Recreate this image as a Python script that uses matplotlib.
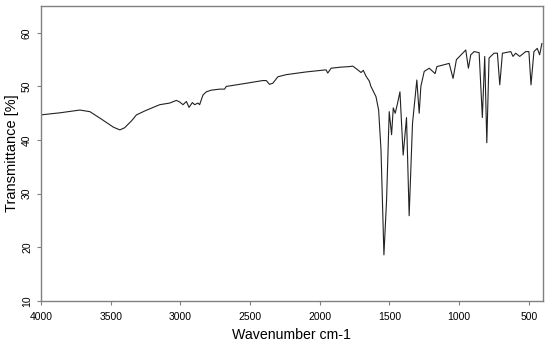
import matplotlib
matplotlib.use('Agg')
import matplotlib.pyplot as plt

plt.rcParams['font.family'] = ['Liberation Sans', 'DejaVu Sans']

# IR spectrum (wavenumber cm-1, transmittance %)
wavenumber = [4000, 3860, 3721, 3649, 3560, 3480, 3434, 3400, 3350, 3315,
              3250, 3148, 3077, 3029, 3005, 2981, 2957, 2938, 2914, 2898,
              2874, 2862, 2838, 2814, 2780, 2719, 2683, 2671, 2550, 2409,
              2384, 2361, 2337, 2301, 2241, 2100, 1955, 1943, 1919, 1850,
              1788, 1764, 1728, 1704, 1688, 1668, 1645, 1633, 1597, 1578,
              1561, 1540, 1521, 1502, 1485, 1473, 1459, 1442, 1425, 1402,
              1378, 1359, 1335, 1304, 1287, 1275, 1251, 1215, 1173, 1160,
              1072, 1044, 1020, 953, 934, 917, 893, 857, 834, 817,
              802, 786, 750, 726, 709, 690, 630, 614, 595, 566,
              523, 500, 485, 464, 440, 423, 407]
transmittance = [44.7, 45.1, 45.6, 45.3, 43.8, 42.4, 41.9, 42.3, 43.6, 44.7,
                 45.5, 46.6, 46.9, 47.4, 47.1, 46.6, 47.2, 46.1, 47.0, 46.6,
                 46.9, 46.6, 48.4, 49.0, 49.3, 49.5, 49.5, 50.0, 50.5, 51.1,
                 51.1, 50.4, 50.6, 51.8, 52.2, 52.7, 53.1, 52.5, 53.4, 53.6,
                 53.7, 53.8, 53.1, 52.6, 53.0, 51.9, 51.0, 50.0, 48.1, 45.6,
                 38.2, 18.6, 28.8, 45.3, 41.0, 46.0, 45.0, 46.9, 49.0, 37.2,
                 44.2, 25.9, 43.1, 51.2, 45.0, 50.0, 52.8, 53.4, 52.4, 53.7,
                 54.3, 51.5, 55.0, 56.8, 53.4, 55.9, 56.5, 56.3, 44.2, 55.6,
                 39.5, 55.3, 56.2, 56.2, 50.3, 56.2, 56.5, 55.6, 56.2, 55.6,
                 56.5, 56.5, 50.3, 56.5, 57.1, 55.9, 58.0]

fig = plt.figure(figsize=(5.5, 3.47), dpi=100)
ax = fig.add_axes([0.0745, 0.1326, 0.9125, 0.8501])
ax.plot(wavenumber, transmittance, color='#222222', linewidth=0.8)

ax.set_xlim(4000, 400)
ax.set_ylim(10, 65)
ax.set_xticks([4000, 3500, 3000, 2500, 2000, 1500, 1000, 500])
ax.set_yticks([10, 20, 30, 40, 50, 60])

for s in ax.spines.values():
    s.set_color('#808080')
    s.set_linewidth(1.0)
ax.tick_params(direction='out', length=3, width=0.8, color='#808080', labelsize=7.5)
ax.tick_params(axis='x', pad=5)
for lbl in ax.get_yticklabels():
    lbl.set_rotation(90)
    lbl.set_va('center')

ax.set_xlabel('Wavenumber cm-1', fontsize=10.2, labelpad=4)
ax.set_ylabel('Transmittance [%]', fontsize=10.5, labelpad=2)

fig.savefig('out.png', dpi=100)
